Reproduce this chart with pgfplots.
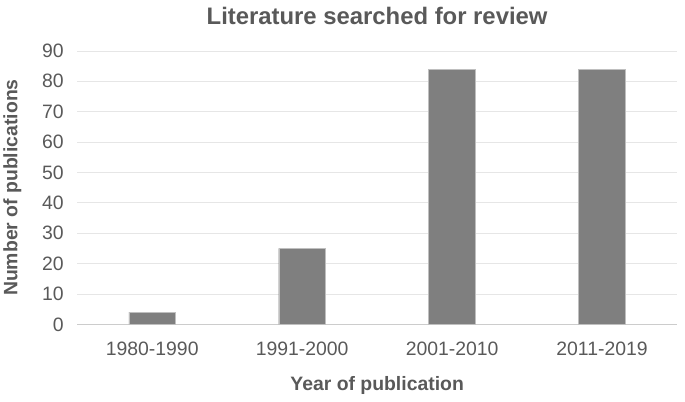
\documentclass[border=0pt]{standalone}
\usepackage{pgfplots}
\pgfplotsset{compat=1.18}
\usepackage{fontspec}
\setmainfont{Liberation Sans}
\definecolor{bargray}{HTML}{7F7F7F}
\definecolor{txtgray}{HTML}{595959}
\definecolor{gridgray}{HTML}{E6E6E6}
\begin{document}
\begin{tikzpicture}[x=1bp,y=1bp]
\path (0,0) rectangle (685,402);
\begin{axis}[
    at={(76bp,77bp)}, anchor=south west,
    scale only axis,
    width=601bp, height=274bp,
    ybar, bar width=47bp,
    ymin=0, ymax=90, ytick={0,10,...,90},
    xmin=-0.5, xmax=3.5,
    xtick={0,1,2,3},
    xticklabels={1980-1990,1991-2000,2001-2010,2011-2019},
    ymajorgrids, grid style={gridgray, line width=0.8pt},
    axis line style={draw=none},
    axis x line*=bottom, axis y line*=left,
    major tick style={draw=none},
    tick label style={font=\fontsize{19.5}{21}\selectfont, text=txtgray},
    /pgf/number format/assume math mode=true,
    xticklabel style={yshift=-10bp},
    yticklabel style={xshift=-10bp},
    xlabel={\textbf{Year of publication}},
    ylabel={\textbf{Number of publications}},
    label style={font=\fontsize{19.5}{21}\selectfont, text=txtgray},
    xlabel style={yshift=-14bp},
    ylabel style={yshift=14bp},
    title={\textbf{Literature searched for review}},
    title style={font=\fontsize{24}{26}\selectfont, text=txtgray, yshift=17bp},
    extra y ticks={0}, extra y tick style={grid style={draw=gray!40, line width=1pt}, yticklabels={}},
]
\addplot[fill=bargray, draw=gray!50] coordinates {(0,4) (1,25) (2,84) (3,84)};
\end{axis}
\end{tikzpicture}
\end{document}
